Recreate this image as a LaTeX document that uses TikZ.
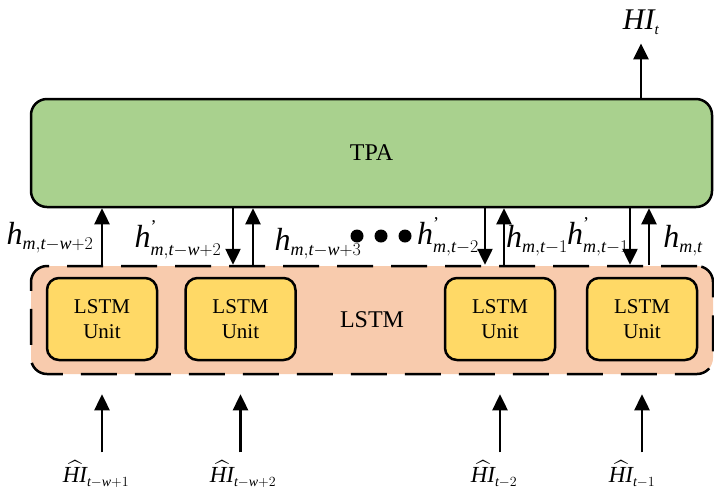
\RequirePackage{fix-cm}
\documentclass[tikz,border=0pt]{standalone}
\usepackage{fontspec}
\setmainfont{Liberation Serif}
\usepackage{amsmath}
\usetikzlibrary{arrows.meta}
\usetikzlibrary{calc,positioning}
\DeclareMathSizes{32}{32}{18}{13}
\DeclareMathSizes{23}{23}{14}{11}
\DeclareMathSizes{30}{30}{15}{12}
\definecolor{tpagreen}{RGB}{169,209,142}
\definecolor{lstmorange}{RGB}{248,203,173}
\definecolor{unityellow}{RGB}{255,217,102}
\tikzset{%
  >={Triangle[width=15pt,length=16pt]},
  % Specifications for style of nodes:
  base/.style = {rectangle, rounded corners=16pt, draw=black,
    line width=2.5pt, align=center, inner sep=0pt},
  tpabox/.style = {base, fill=tpagreen, minimum width=681pt,
    minimum height=108pt, font=\fontsize{24}{28}\selectfont},
  lstmbox/.style = {base, fill=lstmorange, dash pattern=on 36pt off 18pt,
    minimum width=682pt, minimum height=108pt,
    font=\fontsize{24}{28}\selectfont},
  unit/.style = {base, rounded corners=12pt, fill=unityellow,
    minimum width=110pt, minimum height=82pt,
    font=\fontsize{21}{25}\selectfont},
  hlabel/.style = {font=\fontsize{32}{36}\selectfont, inner sep=0pt},
  hilabel/.style = {font=\fontsize{23}{27}\selectfont, inner sep=0pt},
}

\begin{document}
\begin{tikzpicture}[x=1pt, y=-1pt, line width=2.5pt]
    \useasboundingbox (0,0) rectangle (714,499);
    % Specification of nodes (position, etc.)
    \node(TPA)[tpabox] at (371.5,153){TPA};
    \node(LSTM)[lstmbox] at (372,320){LSTM};
    \node(U1)[unit] at (102,319){LSTM\\Unit};
    \node(U2)[unit] at (240.5,319){LSTM\\Unit};
    \node(U3)[unit] at (500,319){LSTM\\Unit};
    \node(U4)[unit] at (642,319){LSTM\\Unit};
    % hidden states
    \node(h1)[hlabel] at (50,238){$\textit{h}_{\textit{m},\textit{t}-\textit{w}+2}$};
    \node(g2)[hlabel] at (178,240){$\textit{h}^{\text{'}}_{\textit{m},\textit{t}-\textit{w}+2}$};
    \node(h2)[hlabel] at (318,244){$\textit{h}_{\textit{m},\textit{t}-\textit{w}+3}$};
    \node(g3)[hlabel] at (448,237){$\textit{h}^{\text{'}}_{\textit{m},\textit{t}-2}$};
    \node(h3)[hlabel] at (537,241){$\textit{h}_{\textit{m},\textit{t}-1}$};
    \node(g4)[hlabel] at (598,237){$\textit{h}^{\text{'}}_{\textit{m},\textit{t}-1}$};
    \node(h4)[hlabel] at (683,241){$\textit{h}_{\textit{m},\textit{t}}$};
    \foreach \x in {357,381,405}
      \fill (\x,236) circle (6.5pt);
    % inputs and output
    \node(x1)[hilabel] at (96,474){$\widehat{\textit{HI}}_{\textit{t}-\textit{w}+1}$};
    \node(x2)[hilabel] at (243,474){$\widehat{\textit{HI}}_{\textit{t}-\textit{w}+2}$};
    \node(x3)[hilabel] at (494,474){$\widehat{\textit{HI}}_{\textit{t}-2}$};
    \node(x4)[hilabel] at (632,474){$\widehat{\textit{HI}}_{\textit{t}-1}$};
    \node(HIt)[hilabel, font=\fontsize{30}{34}\selectfont] at (641,22){$\textit{HI}_{\textit{t}}$};
    \foreach \i in {1,...,4}
      \draw[->]([yshift=-91pt]U\i.south) -- ([yshift=-33pt]U\i.south);
    \foreach \x/\n in {102/a1,253/a2,504/a3,649/a4}{
      \coordinate(\n) at (\x,0);
      \draw[->](\n |- LSTM.north) -- (\n |- TPA.south);
    }
    \foreach \x/\n in {233/b2,485/b3,630/b4}{
      \coordinate(\n) at (\x,0);
      \draw[->](\n |- TPA.south) -- (\n |- LSTM.north);
    }
    \draw[->](HIt.south |- TPA.north) -- ([yshift=-8pt]HIt.south);
\end{tikzpicture}
\end{document}
